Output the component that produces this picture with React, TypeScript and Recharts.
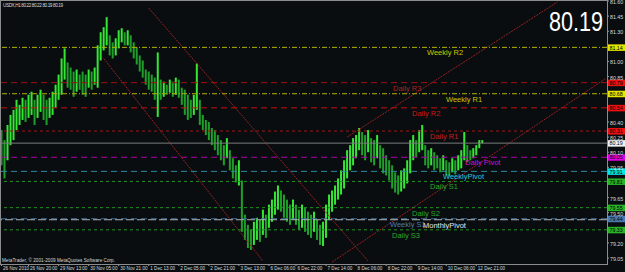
import { Bar, ComposedChart, ReferenceLine, XAxis, YAxis } from "recharts";

// USDX H1 bars (high / low per bar)
const highs = [
  80.32, 80.22, 80.37, 80.47, 80.52, 80.62, 80.57, 80.64, 80.62, 80.67,
  80.70, 80.62, 80.67, 80.72, 80.67, 80.62, 80.64, 80.70, 80.77, 80.87,
  81.03, 81.13, 80.99, 80.94, 80.90, 80.92, 80.87, 80.90, 80.87, 80.92,
  80.90, 80.94, 81.16, 81.29, 81.34, 81.44, 81.26, 81.19, 81.23, 81.31,
  81.33, 81.29, 81.31, 81.26, 81.19, 81.14, 81.06, 81.01, 80.92, 80.90,
  80.87, 80.84, 81.09, 80.82, 80.80, 80.77, 80.82, 80.80, 80.84, 80.82,
  80.74, 80.72, 80.67, 80.62, 80.67, 80.98, 80.62, 80.47, 80.42, 80.40,
  80.34, 80.32, 80.27, 80.22, 80.17, 80.24, 80.12, 80.04, 79.97, 80.02,
  79.82, 79.48, 79.38, 79.33, 79.41, 79.45, 79.43, 79.53, 79.48, 79.58,
  79.63, 79.71, 79.77, 79.72, 79.68, 79.63, 79.58, 79.63, 79.58, 79.53,
  79.58, 79.55, 79.51, 79.48, 79.51, 79.43, 79.38, 79.41, 79.58, 79.68,
  79.72, 79.77, 79.84, 79.92, 80.02, 80.12, 80.17, 80.24, 80.27, 80.34,
  80.30, 80.27, 80.32, 80.24, 80.22, 80.27, 80.17, 80.14, 80.07, 80.02,
  79.97, 79.90, 79.87, 79.92, 79.94, 80.02, 80.22, 80.27, 80.22, 80.32,
  80.37, 80.17, 80.12, 80.14, 80.10, 80.07, 80.04, 80.07, 80.02, 80.00,
  80.04, 80.02, 80.07, 80.12, 80.30, 80.17, 80.12, 80.14, 80.17, 80.22,
  80.22,
];
const lows = [
  79.97, 79.84, 80.02, 80.17, 80.22, 80.32, 80.37, 80.42, 80.40, 80.44,
  80.47, 80.37, 80.44, 80.50, 80.42, 80.37, 80.44, 80.47, 80.54, 80.62,
  80.67, 80.82, 80.74, 80.72, 80.65, 80.70, 80.72, 80.67, 80.65, 80.74,
  80.72, 80.77, 80.74, 81.01, 81.11, 81.16, 81.06, 81.03, 81.06, 81.13,
  81.19, 81.16, 81.16, 81.09, 81.03, 80.97, 80.90, 80.84, 80.77, 80.72,
  80.70, 80.62, 80.45, 80.62, 80.65, 80.67, 80.69, 80.65, 80.67, 80.64,
  80.57, 80.47, 80.42, 80.44, 80.47, 80.52, 80.37, 80.32, 80.27, 80.22,
  80.17, 80.12, 80.07, 80.02, 79.97, 80.04, 79.92, 79.84, 79.80, 79.77,
  79.31, 79.23, 79.15, 79.13, 79.18, 79.23, 79.21, 79.28, 79.25, 79.35,
  79.41, 79.48, 79.53, 79.51, 79.45, 79.41, 79.38, 79.43, 79.38, 79.33,
  79.35, 79.31, 79.28, 79.25, 79.31, 79.23, 79.18, 79.17, 79.25, 79.43,
  79.51, 79.58, 79.63, 79.68, 79.74, 79.84, 79.92, 79.97, 80.04, 80.12,
  80.07, 80.02, 80.10, 80.00, 79.97, 80.04, 79.94, 79.89, 79.87, 79.82,
  79.74, 79.70, 79.68, 79.71, 79.74, 79.79, 79.89, 80.02, 80.05, 80.10,
  80.12, 79.97, 79.94, 79.97, 79.92, 79.94, 79.90, 79.92, 79.87, 79.86,
  79.90, 79.88, 79.92, 79.94, 80.02, 80.00, 80.02, 80.04, 80.07, 80.14,
  80.19,
];
const slotCount = 202; // bars plus the empty shift area on the right

const timeTicks = [0, 9, 19, 29, 39, 49, 59, 69, 79, 89, 98, 108, 118, 128, 138, 148, 158];
const timeLabels = [
  "26 Nov 2010", "26 Nov 20:00", "29 Nov 13:00", "30 Nov 05:00", "30 Nov 21:00",
  "1 Dec 13:00", "2 Dec 05:00", "2 Dec 21:00", "3 Dec 13:00", "6 Dec 06:00",
  "6 Dec 22:00", "7 Dec 14:00", "8 Dec 06:00", "8 Dec 22:00", "9 Dec 14:00",
  "10 Dec 06:00", "12 Dec 21:00",
];
// price scale labels still visible next to the level tags
const priceTicks = [
  81.6, 81.45, 81.3, 81.0, 80.85, 80.4,
  80.25, 80.1, 79.95, 79.65, 79.5, 79.2, 79.05,
];

const levelNames = [
  "Weekly R2", "Daily R3", "Weekly R1", "Daily R2", "Daily R1", "Daily Pivot",
  "WeeklyPivot", "Daily S1", "Daily S2", "Weekly S1", "MonthlyPivot", "Daily S3",
];
const levelValues = [81.14, 80.79, 80.68, 80.54, 80.31, 80.05, 79.91, 79.81, 79.55, 79.44, 79.43, 79.33];

// trend channel lines: bar index / price at each end
const channelFromBar = [49, 34, 110, 115];
const channelFromPrice = [81.53, 81.03, 79.01, 80.25];
const channelToBar = [122, 87, 201, 185];
const channelToPrice = [79.02, 79.02, 80.83, 81.59];

const lastPrice = 80.19;
const header = "USDX,H1  80.22 80.22 80.19 80.19";
const copyright = "MetaTrader, © 2001-2009 MetaQuotes Software Corp.";

const levelStyles = [
  { stroke: "#b4b400", dash: "5 2 1 2", text: "#c8c800", tag: "#e6e600", dx: 427 },
  { stroke: "#a01010", dash: "6 4", text: "#a82424", tag: "#ee1111", dx: 393 },
  { stroke: "#b4b400", dash: "5 2 1 2", text: "#c8c800", tag: "#e6e600", dx: 446 },
  { stroke: "#c81010", dash: "6 4", text: "#d41414", tag: "#ee1111", dx: 412 },
  { stroke: "#a01818", dash: "3 3", text: "#c81e1e", tag: "#ee1111", dx: 430 },
  { stroke: "#b000b0", dash: "6 4", text: "#d010d0", tag: "#e000e0", dx: 465 },
  { stroke: "#2a8ca0", dash: "6 4", text: "#28c8d8", tag: "#00e6e6", dx: 443 },
  { stroke: "#1e961e", dash: "3 3", text: "#2aa82a", tag: "#28b428", dx: 430 },
  { stroke: "#1e961e", dash: "3 3", text: "#2aa82a", tag: "#28b428", dx: 412 },
  { stroke: "#3c6e9e", dash: "6 4", text: "#4a7cb0", tag: "#4a7ab0", dx: 390 },
  { stroke: "#b4b4b4", dash: "8 3", text: "#e6e6e6", tag: "", dx: 423 },
  { stroke: "#1e961e", dash: "3 3", text: "#2aa82a", tag: "#28b428", dx: 392 },
];

const font = "'Liberation Sans', Arial, sans-serif";

const rows = Array.from({ length: slotCount }, (_, i) => ({
  idx: i,
  high: i < highs.length ? highs[i] : null,
  low: i < lows.length ? lows[i] : null,
  up: i > 0 && i < highs.length && highs[i] + lows[i] >= highs[i - 1] + lows[i - 1],
}));

function PriceBar(props: any) {
  const { x, y, width, height, payload } = props;
  if (payload == null || payload.high == null || !isFinite(y) || !isFinite(height)) return <g />;
  const top = Math.min(y, y + height);
  const h = Math.max(Math.abs(height), 1);
  return (
    <rect
      x={x + width / 2 - 1}
      y={top}
      width={2}
      height={h}
      fill={payload.up ? "#35e635" : "#1f9e2a"}
    />
  );
}

function TimeTick(props: any) {
  const { x, y, payload } = props;
  const k = timeTicks.indexOf(payload.value);
  return (
    <text x={x + 1.5} y={y + 4} fill="#d8d8d8" fontSize={4.6} fontFamily={font}>
      {k >= 0 ? timeLabels[k] : ""}
    </text>
  );
}

function PriceTick(props: any) {
  const { x, y, payload } = props;
  return (
    <text x={x} y={y + 3} fill="#d8d8d8" fontSize={5.3} fontFamily={font}>
      {Number(payload.value).toFixed(2)}
    </text>
  );
}

function levelLabel(name: string, value: number, st: any) {
  return (p: any) => {
    const vb = p.viewBox;
    const ax = vb.x + vb.width;
    return (
      <g>
        <text x={vb.x + st.dx} y={vb.y + 8} fill={st.text} fontSize={7.5} fontFamily={font}>
          {name}
        </text>
        {st.tag ? (
          <g>
            <rect x={ax + 1} y={vb.y - 3} width={17} height={6.5} fill={st.tag} />
            <text x={ax + 2.5} y={vb.y + 2.2} fill="#000" fontSize={5.3} fontFamily={font}>
              {value.toFixed(2)}
            </text>
          </g>
        ) : null}
      </g>
    );
  };
}

function bidLabel(p: any) {
  const vb = p.viewBox;
  const ax = vb.x + vb.width;
  return (
    <g>
      <rect x={ax + 1} y={vb.y - 3} width={17} height={6.5} fill="#f0f0f0" />
      <text x={ax + 2.5} y={vb.y + 2.2} fill="#000" fontSize={5.3} fontFamily={font}>
        {lastPrice.toFixed(2)}
      </text>
    </g>
  );
}

export default function App() {
  return (
    <div style={{ position: "fixed", left: 0, top: 0, width: 625, height: 272, background: "#090d0f" }}>
      <ComposedChart
        width={625}
        height={272}
        data={rows}
        margin={{ top: 1, right: 0, left: 0, bottom: 0 }}
        barCategoryGap={0}
        barGap={0}
      >
        <XAxis
          dataKey="idx"
          type="category"
          ticks={timeTicks}
          interval={0}
          height={8}
          tickSize={2}
          tickMargin={0}
          axisLine={false}
          tickLine={{ stroke: "#9a9a9a" }}
          tick={<TimeTick />}
        />
        <YAxis
          orientation="right"
          type="number"
          domain={[78.991, 81.6]}
          allowDataOverflow
          ticks={priceTicks}
          interval={0}
          width={18}
          tickSize={2}
          tickMargin={1}
          axisLine={false}
          tickLine={{ stroke: "#9a9a9a" }}
          tick={<PriceTick />}
        />
        {channelFromBar.map((b, i) => (
          <ReferenceLine
            key={"ch" + i}
            segment={[
              { x: b, y: channelFromPrice[i] },
              { x: channelToBar[i], y: channelToPrice[i] },
            ]}
            stroke="#9a2020"
            strokeDasharray="2 1"
            ifOverflow="visible"
          />
        ))}
        {levelValues.map((v, i) => (
          <ReferenceLine
            key={"lv" + i}
            y={v}
            stroke={levelStyles[i].stroke}
            strokeDasharray={levelStyles[i].dash}
            ifOverflow="visible"
            label={levelLabel(levelNames[i], v, levelStyles[i])}
          />
        ))}
        <ReferenceLine y={lastPrice} stroke="#7c7c7c" ifOverflow="visible" label={bidLabel} />
        <Bar
          dataKey={(d: any) => (d.high == null ? null : [d.low, d.high])}
          isAnimationActive={false}
          shape={<PriceBar />}
        />
      </ComposedChart>
      <svg
        width={625}
        height={272}
        style={{ position: "absolute", left: 0, top: 0, pointerEvents: "none" }}
      >
        <rect x={0.5} y={0.5} width={607} height={264} fill="none" stroke="#8c8c8c" />
        <text x={3} y={7} fill="#d8d8d8" fontSize={4.6} fontFamily={font} textLength={60}>
          {header}
        </text>
        <text x={2} y={261.5} fill="#d8d8d8" fontSize={4.6} fontFamily={font} textLength={113}>
          {copyright}
        </text>
        <g transform="translate(549 31) scale(0.8 1)">
          <text x={0} y={0} fill="#ffffff" fontSize={27} fontFamily={font}>
            {lastPrice.toFixed(2)}
          </text>
        </g>
      </svg>
    </div>
  );
}
